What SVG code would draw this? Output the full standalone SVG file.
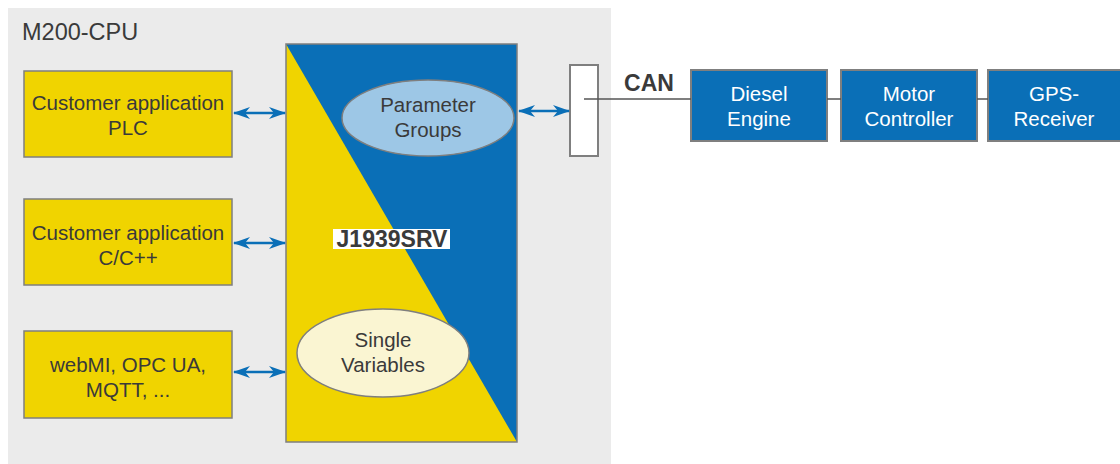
<svg xmlns="http://www.w3.org/2000/svg" width="1120" height="464" viewBox="0 0 1120 464">
<style>
.t{font-family:"Liberation Sans",Arial,Helvetica,sans-serif;font-size:20.5px;fill:#3a3a3a;text-anchor:middle}
.w{fill:#ffffff}
.b{font-weight:bold}
.ybox{fill:#f0d400;stroke:#7f7f7f;stroke-width:1.5}
.bbox{fill:#0a6fb7;stroke:#7f7f7f;stroke-width:2}
.arr{stroke:#0a6fb7;stroke-width:2.5;fill:none}
.ln{stroke:#555;stroke-width:1.5;fill:none}
</style>
<defs>
<marker id="ah" viewBox="0 0 17 12" refX="16" refY="6" markerWidth="17" markerHeight="12" markerUnits="userSpaceOnUse" orient="auto-start-reverse">
<path d="M0,0 L17,6 L0,12 L5,6 Z" fill="#0a6fb7"/>
</marker>
</defs>
<rect width="1120" height="464" fill="#ffffff"/>
<g id="m200-cpu">
<rect x="8" y="8" width="603" height="456" fill="#ebebeb"/>
<text x="22" y="40" class="t" style="text-anchor:start;font-size:23.5px">M200-CPU</text>
</g>
<g id="plc">
<rect x="24" y="71" width="208" height="86" class="ybox"/>
<text x="128" y="110" class="t">Customer application</text>
<text x="128" y="135" class="t">PLC</text>
</g>
<g id="cpp">
<rect x="24" y="199" width="208" height="86" class="ybox"/>
<text x="128" y="240" class="t">Customer application</text>
<text x="128" y="265" class="t">C/C++</text>
</g>
<g id="webmi">
<rect x="24" y="331" width="208" height="87" class="ybox"/>
<text x="128" y="372" class="t">webMI, OPC UA,</text>
<text x="128" y="397" class="t">MQTT, ...</text>
</g>
<g id="j1939srv">
<rect x="286" y="44" width="231" height="398" fill="#0a6fb7"/>
<polygon points="286,44 517,442 286,442" fill="#f0d400"/>
<rect x="286" y="44" width="231" height="398" fill="none" stroke="#7f7f7f" stroke-width="1.5"/>
<rect x="333" y="229" width="117" height="20" fill="#ffffff"/>
<text x="392" y="247" class="t b" style="font-size:23px">J1939SRV</text>
</g>
<g id="parameter-groups">
<ellipse cx="428" cy="118" rx="86" ry="38" fill="#9dc7e6" stroke="#7f7f7f" stroke-width="1.5"/>
<text x="428" y="112" class="t">Parameter</text>
<text x="428" y="137" class="t">Groups</text>
</g>
<g id="single-variables">
<ellipse cx="383" cy="353" rx="86" ry="44" fill="#faf5d2" stroke="#7f7f7f" stroke-width="1.5"/>
<text x="383" y="347" class="t">Single</text>
<text x="383" y="372" class="t">Variables</text>
</g>
<g id="can-port">
<rect x="570" y="65" width="28" height="91" fill="#ffffff" stroke="#7f7f7f" stroke-width="2"/>
</g>
<g id="diesel-engine">
<rect x="691" y="70" width="136" height="71" class="bbox"/>
<text x="759" y="101" class="t w">Diesel</text>
<text x="759" y="126" class="t w">Engine</text>
</g>
<g id="motor-controller">
<rect x="841" y="70" width="136" height="71" class="bbox"/>
<text x="909" y="101" class="t w">Motor</text>
<text x="909" y="126" class="t w">Controller</text>
</g>
<g id="gps-receiver">
<rect x="988" y="70" width="140" height="71" class="bbox"/>
<text x="1054" y="101" class="t w">GPS-</text>
<text x="1054" y="126" class="t w">Receiver</text>
</g>
<g id="connectors">
<line x1="234" y1="113" x2="285" y2="113" class="arr" marker-start="url(#ah)" marker-end="url(#ah)"/>
<line x1="234" y1="243" x2="285" y2="243" class="arr" marker-start="url(#ah)" marker-end="url(#ah)"/>
<line x1="234" y1="372" x2="285" y2="372" class="arr" marker-start="url(#ah)" marker-end="url(#ah)"/>
<line x1="519" y1="111" x2="569" y2="111" class="arr" marker-start="url(#ah)" marker-end="url(#ah)"/>
<line x1="584" y1="99" x2="691" y2="99" class="ln"/>
<line x1="827" y1="99" x2="841" y2="99" class="ln"/>
<line x1="977" y1="99" x2="988" y2="99" class="ln"/>
<text x="649" y="91" class="t b" style="font-size:23px">CAN</text>
</g>
</svg>
